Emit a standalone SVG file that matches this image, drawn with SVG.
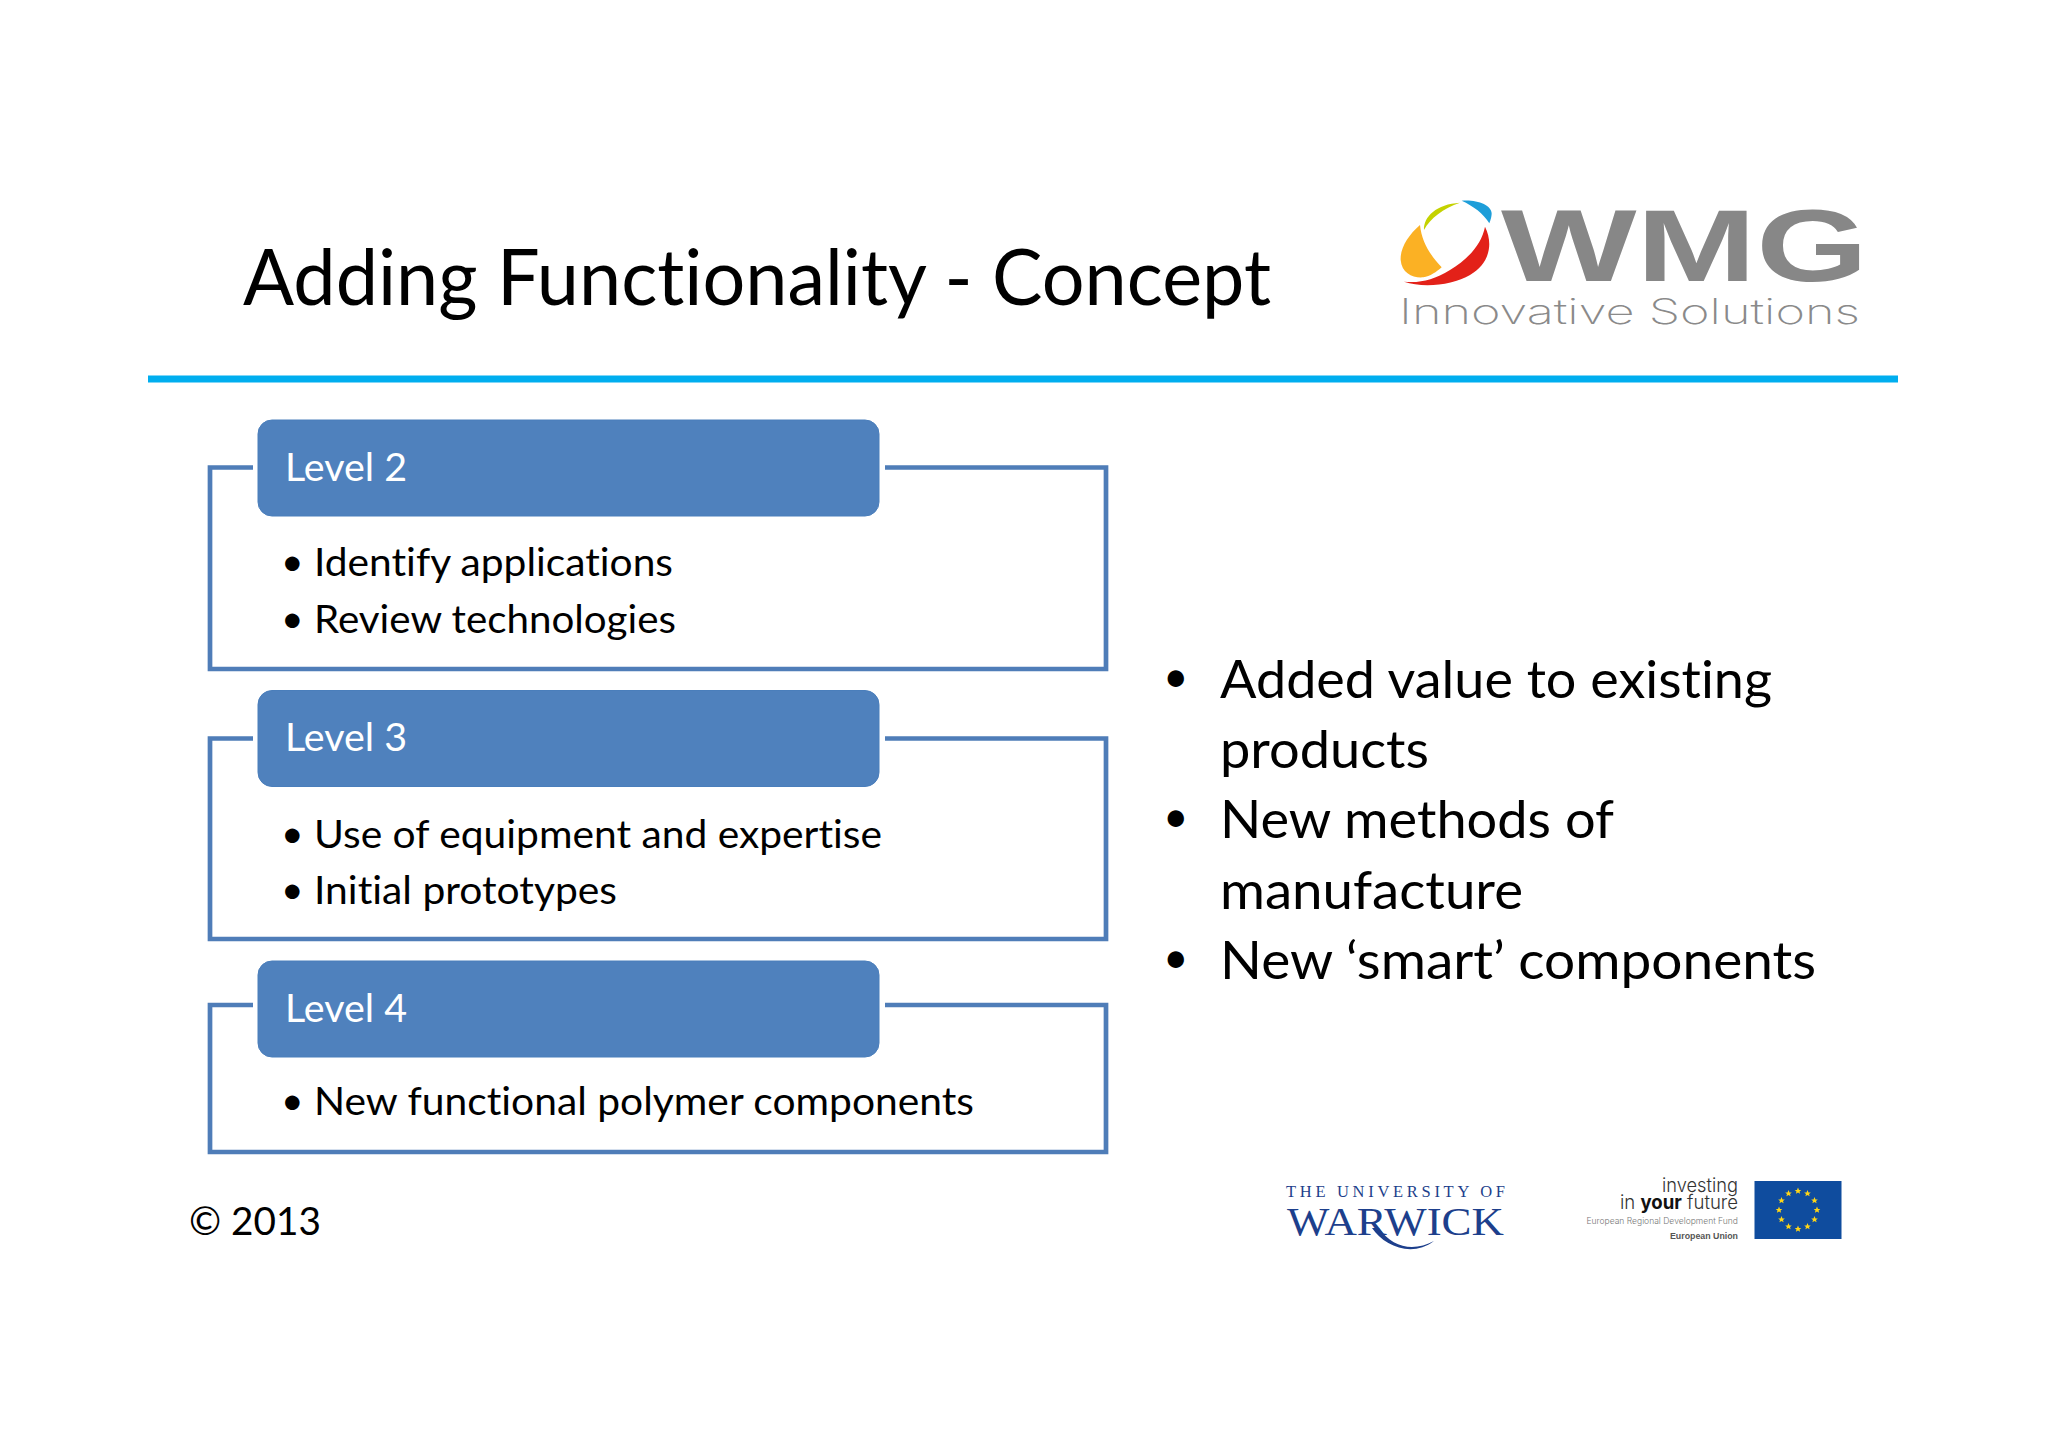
<svg xmlns="http://www.w3.org/2000/svg" width="2048" height="1447" viewBox="0 0 2048 1447">
<style>
text{font-family:Lato,"Open Sans","Liberation Sans",sans-serif;fill:#000;font-variant-ligatures:none}
.h{fill:#4f81bd;stroke:#4a7ebb;stroke-width:1}
.f{fill:none;stroke:#4f7db8;stroke-width:4.7}
.l{font-size:39px;fill:#fff}
.b{font-size:39px}
.r{font-size:52px}
.d{font-size:44px}
.w{font-family:"Liberation Serif",serif;fill:#1d3f8c}
.e{font-family:"Liberation Sans",Arial,sans-serif}
.t{font-family:Inter,"Liberation Sans",sans-serif;font-weight:300}
</style>
<defs><polygon id="star" points="0,-3.400 1,-1.100 3.300,-1 1.500,.5 2.100,2.800 0,1.500 -2.100,2.800 -1.500,.5 -3.300,-1 -1,-1.100" fill="#ffd617"/></defs>
<rect width="2048" height="1447" fill="#fff"/>
<g id="title"><text x="243" y="304.500" font-size="78" textLength="1028" lengthAdjust="spacingAndGlyphs">Adding Functionality - Concept</text></g>
<rect id="rule" x="148" y="375.500" width="1750" height="7" fill="#00aeef"/>
<g id="wmg-logo">
<g transform="translate(1380 180) scale(.33333)">
<path d="M120 135C85 165 60 205 62 240C65 280 100 295 130 292C150 290 170 275 185 262C150 225 125 185 120 135Z" fill="#fbb124"/>
<path d="M132 150C130 110 170 72 240 68C190 85 150 115 132 150Z" fill="#c4d200"/>
<path d="M245 62C290 58 335 75 335 100C335 112 330 125 328 130C310 100 280 78 245 62Z" fill="#1e9ed9"/>
<path d="M315 140C340 190 330 250 270 285C220 315 130 325 72 305C120 310 160 300 210 270C260 240 305 195 315 140Z" fill="#e32119"/>
</g>
<text class="e" x="1501" y="281" font-size="102" font-weight="700" textLength="367" lengthAdjust="spacingAndGlyphs" style="fill:#878787">WMG</text>
<text class="t" x="1399" y="324" font-size="35" textLength="461" lengthAdjust="spacingAndGlyphs" style="fill:#8a8a8a;font-weight:200">Innovative Solutions</text>
</g>
<g id="connectors">
<path class="f" d="M253 467.500H210V669H1106V467.500H885"/>
<path class="f" d="M253 738.500H210V939H1106V738.500H885"/>
<path class="f" d="M253 1005H210V1152H1106V1005H885"/>
</g>
<g id="level2"><rect class="h" x="258" y="420" width="621" height="96" rx="14"/><text class="l" x="285" y="480.500" textLength="122" lengthAdjust="spacingAndGlyphs">Level 2</text></g>
<g id="level2-items"><text class="b" x="281" y="575">•</text><text class="b" x="314" y="576" textLength="359" lengthAdjust="spacingAndGlyphs">Identify applications</text><text class="b" x="281" y="632">•</text><text class="b" x="314" y="633" textLength="362" lengthAdjust="spacingAndGlyphs">Review technologies</text></g>
<g id="level3"><rect class="h" x="258" y="690.500" width="621" height="96" rx="14"/><text class="l" x="285" y="751" textLength="122" lengthAdjust="spacingAndGlyphs">Level 3</text></g>
<g id="level3-items"><text class="b" x="281" y="846.500">•</text><text class="b" x="314" y="847.500" textLength="568" lengthAdjust="spacingAndGlyphs">Use of equipment and expertise</text><text class="b" x="281" y="902.500">•</text><text class="b" x="314" y="903.500" textLength="303" lengthAdjust="spacingAndGlyphs">Initial prototypes</text></g>
<g id="level4"><rect class="h" x="258" y="961" width="621" height="96" rx="14"/><text class="l" x="285" y="1022" textLength="122" lengthAdjust="spacingAndGlyphs">Level 4</text></g>
<g id="level4-items"><text class="b" x="281" y="1114">•</text><text class="b" x="314" y="1115" textLength="660" lengthAdjust="spacingAndGlyphs">New functional polymer components</text></g>
<g id="bullets">
<text class="d" x="1163" y="691.500">•</text><text class="r" x="1220" y="698" textLength="552" lengthAdjust="spacingAndGlyphs">Added value to existing</text>
<text class="r" x="1220" y="768" textLength="209" lengthAdjust="spacingAndGlyphs">products</text>
<text class="d" x="1163" y="831.500">•</text><text class="r" x="1220" y="837.500" textLength="394" lengthAdjust="spacingAndGlyphs">New methods of</text>
<text class="r" x="1220" y="908.500" textLength="303" lengthAdjust="spacingAndGlyphs">manufacture</text>
<text class="d" x="1163" y="972.500">•</text><text class="r" x="1220" y="978.500" textLength="596" lengthAdjust="spacingAndGlyphs">New ‘smart’ components</text>
</g>
<g id="copyright"><text x="189" y="1235" font-size="39" textLength="132" lengthAdjust="spacingAndGlyphs">© 2013</text></g>
<g id="warwick-logo">
<text class="w" x="1286" y="1197" font-size="16.500" textLength="219" lengthAdjust="spacing">THE UNIVERSITY OF</text>
<text class="w" x="1287" y="1235" font-size="40" textLength="217" lengthAdjust="spacingAndGlyphs">WARWICK</text>
<path d="M1372 1228C1384 1246 1412 1258 1434 1241C1414 1252 1392 1248 1379 1228Z" fill="#1d3f8c"/>
</g>
<g id="erdf-logo">
<text class="t" x="1662" y="1192" font-size="19" textLength="76" lengthAdjust="spacingAndGlyphs" style="fill:#333">investing</text>
<text class="t" x="1620" y="1209" font-size="19" textLength="118" lengthAdjust="spacingAndGlyphs" style="fill:#333">in <tspan font-weight="700" style="fill:#111">your</tspan> future</text>
<text class="t" x="1586.500" y="1224" font-size="9" textLength="151.500" lengthAdjust="spacingAndGlyphs" style="fill:#777">European Regional Development Fund</text>
<text class="e" x="1670" y="1239" font-size="9" font-weight="700" textLength="68" lengthAdjust="spacingAndGlyphs" style="fill:#555">European Union</text>
<rect x="1754.500" y="1181" width="87" height="58" fill="#0f4c9e"/>
<g transform="translate(1798 1210)"><use href="#star" x="0" y="-19"/><use href="#star" x="9.500" y="-16.500"/><use href="#star" x="16.500" y="-9.500"/><use href="#star" x="19" y="0"/><use href="#star" x="16.500" y="9.500"/><use href="#star" x="9.500" y="16.500"/><use href="#star" x="0" y="19"/><use href="#star" x="-9.500" y="16.500"/><use href="#star" x="-16.500" y="9.500"/><use href="#star" x="-19" y="0"/><use href="#star" x="-16.500" y="-9.500"/><use href="#star" x="-9.500" y="-16.500"/></g>
</g>
</svg>
